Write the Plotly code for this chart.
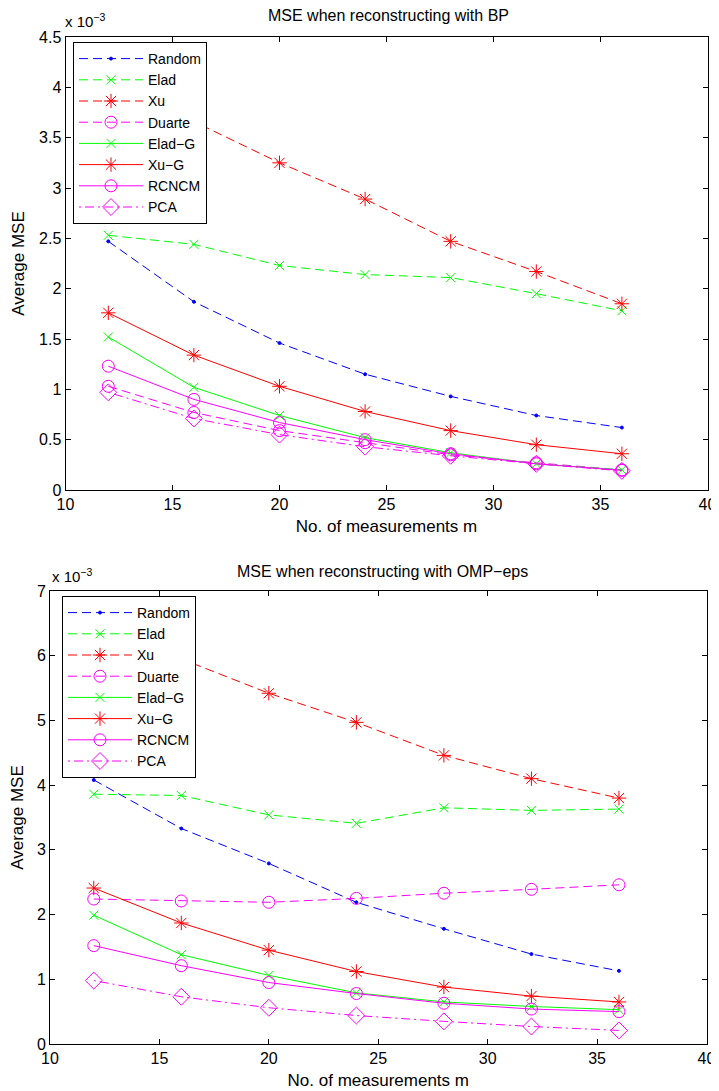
import plotly.graph_objects as go

m = [12, 16, 20, 24, 28, 32, 36]
series_names = ["Random", "Elad", "Xu", "Duarte", "Elad\u2212G", "Xu\u2212G", "RCNCM", "PCA"]

# MSE (x 1e-3) when reconstructing with BP
bp_random = [2.47, 1.87, 1.46, 1.15, 0.93, 0.74, 0.62]
bp_elad = [2.53, 2.44, 2.23, 2.14, 2.11, 1.95, 1.78]
bp_xu = [4.25, 3.66, 3.25, 2.89, 2.47, 2.17, 1.85]
bp_duarte = [1.03, 0.77, 0.59, 0.47, 0.35, 0.27, 0.20]
bp_elad_g = [1.52, 1.02, 0.74, 0.52, 0.37, 0.26, 0.20]
bp_xu_g = [1.76, 1.34, 1.03, 0.78, 0.59, 0.45, 0.36]
bp_rcncm = [1.23, 0.90, 0.67, 0.50, 0.36, 0.26, 0.195]
bp_pca = [0.97, 0.71, 0.55, 0.43, 0.34, 0.26, 0.19]

# MSE (x 1e-3) when reconstructing with OMP-eps
omp_random = [4.08, 3.33, 2.79, 2.19, 1.78, 1.39, 1.13]
omp_elad = [3.86, 3.84, 3.54, 3.41, 3.65, 3.61, 3.63]
omp_xu = [6.70, 5.95, 5.42, 4.97, 4.46, 4.10, 3.80]
omp_duarte = [2.24, 2.21, 2.19, 2.25, 2.33, 2.39, 2.46]
omp_elad_g = [1.99, 1.38, 1.06, 0.79, 0.65, 0.58, 0.53]
omp_xu_g = [2.41, 1.87, 1.45, 1.12, 0.88, 0.74, 0.65]
omp_rcncm = [1.52, 1.21, 0.95, 0.78, 0.63, 0.54, 0.50]
omp_pca = [0.98, 0.73, 0.56, 0.44, 0.35, 0.27, 0.21]

bp_data = [bp_random, bp_elad, bp_xu, bp_duarte, bp_elad_g, bp_xu_g, bp_rcncm, bp_pca]
omp_data = [omp_random, omp_elad, omp_xu, omp_duarte, omp_elad_g, omp_xu_g, omp_rcncm, omp_pca]

BLUE, GREEN, RED, MAG = "#0000ff", "#00ff00", "#ff0000", "#ff00ff"
DASH = "9px,5px"
styles = [
    dict(color=BLUE, dash=DASH, symbol="circle", size=3),
    dict(color=GREEN, dash=DASH, symbol="x-thin-open", size=9),
    dict(color=RED, dash=DASH, symbol="asterisk-open", size=12),
    dict(color=MAG, dash=DASH, symbol="circle-open", size=12),
    dict(color=GREEN, dash="solid", symbol="x-thin-open", size=9),
    dict(color=RED, dash="solid", symbol="asterisk-open", size=12),
    dict(color=MAG, dash="solid", symbol="circle-open", size=12),
    dict(color=MAG, dash="2px,4px,9px,4px", symbol="diamond-open", size=13),
]

FONT = "Liberation Sans, Arial, Helvetica, sans-serif"
fig = go.Figure()

for data, xa, ya, lg in [(bp_data, "x", "y", "legend"), (omp_data, "x2", "y2", "legend2")]:
    for name, vals, st in zip(series_names, data, styles):
        fig.add_trace(go.Scatter(
            x=m, y=vals, name=name, mode="lines+markers",
            xaxis=xa, yaxis=ya, legend=lg,
            line=dict(color=st["color"], dash=st["dash"], width=1),
            marker=dict(symbol=st["symbol"], size=st["size"], color=st["color"],
                        line=dict(color=st["color"], width=1)),
        ))

W, H = 719, 1091
OFF = 8  # page body margin offset
def xd(a, b):
    return [(a - OFF) / W, (b - OFF) / W]
def yd(top, bot):
    return [1 - (bot - OFF) / H, 1 - (top - OFF) / H]
def px(x):
    return (x - OFF) / W
def py(y):
    return 1 - (y - OFF) / H

axis_common = dict(
    showline=True, linecolor="black", linewidth=1, mirror="ticks",
    ticks="inside", ticklen=5, tickcolor="black", tickwidth=1,
    showgrid=False, zeroline=False,
    tickfont=dict(family=FONT, size=16, color="black"),
    automargin=False,
)
ttl = dict(family=FONT, size=17, color="black")

leg_common = dict(xanchor="left", yanchor="top",
                  bgcolor="white", bordercolor="black", borderwidth=1,
                  font=dict(family=FONT, size=14, color="black"),
                  tracegroupgap=0, itemwidth=64)

fig.update_layout(
    width=W, height=H,
    margin=dict(l=0, r=0, t=0, b=0),
    paper_bgcolor="white", plot_bgcolor="white",
    font=dict(family=FONT, color="black"),
    xaxis=dict(axis_common, domain=xd(65.5, 707.5), range=[10, 40], dtick=5, anchor="y",
               title=dict(text="No. of measurements m", font=ttl, standoff=7)),
    yaxis=dict(axis_common, domain=yd(37, 490), range=[0, 4.5], dtick=0.5, anchor="x",
               title=dict(text="Average MSE", font=ttl, standoff=10)),
    xaxis2=dict(axis_common, domain=xd(50, 706.5), range=[10, 40], dtick=5, anchor="y2",
                title=dict(text="No. of measurements m", font=ttl, standoff=7)),
    yaxis2=dict(axis_common, domain=yd(591, 1044), range=[0, 7], dtick=1, anchor="x2",
                title=dict(text="Average MSE", font=ttl, standoff=12)),
    legend=dict(leg_common, x=px(73), y=py(42)),
    legend2=dict(leg_common, x=px(62), y=py(596)),
    showlegend=True,
    annotations=[
        dict(text="MSE when reconstructing with BP", x=px(388), y=py(15),
             xanchor="center", yanchor="middle",
             xref="paper", yref="paper", showarrow=False, font=dict(family=FONT, size=16)),
        dict(text="MSE when reconstructing with OMP\u2212eps", x=px(382), y=py(571),
             xanchor="center", yanchor="middle",
             xref="paper", yref="paper", showarrow=False, font=dict(family=FONT, size=16)),
        dict(text="x 10<sup>\u22123</sup>", x=px(63), y=py(20), xanchor="left", yanchor="middle",
             xref="paper", yref="paper", showarrow=False, font=dict(family=FONT, size=15)),
        dict(text="x 10<sup>\u22123</sup>", x=px(50), y=py(575), xanchor="left", yanchor="middle",
             xref="paper", yref="paper", showarrow=False, font=dict(family=FONT, size=15)),
    ],
)

fig.write_html("out.html")
